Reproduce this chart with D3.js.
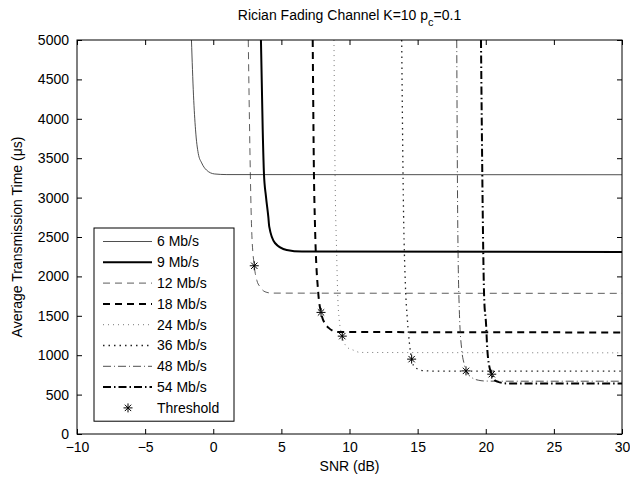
<!DOCTYPE html>
<html>
<head>
<meta charset="utf-8">
<script src="https://cdn.jsdelivr.net/npm/d3@7"></script>
<style>
  html, body { margin: 0; padding: 0; background: #fff; }
  svg { display: block; font-family: "Liberation Sans", Arial, Helvetica, sans-serif; }
</style>
</head>
<body>
<svg id="chart" width="630" height="477"></svg>
<script>
// Average transmission time vs SNR, one curve per 802.11a rate
const rates = ["6 Mb/s", "9 Mb/s", "12 Mb/s", "18 Mb/s", "24 Mb/s", "36 Mb/s", "48 Mb/s", "54 Mb/s"];

const snr6  = [-1.6, -1.45, -1.3, -1.1, -0.85, -0.5, 0.1, 1.0, 30];
const time6 = [5000, 4300, 3860, 3560, 3440, 3350, 3300, 3292, 3290];

const snr9  = [3.5, 3.63, 3.72, 3.87, 4.04, 4.11, 4.53, 5.39, 6.5, 30];
const time9 = [5000, 3860, 3310, 3013, 2758, 2631, 2424, 2335, 2315, 2310];

const snr12  = [2.57, 2.82, 3.01, 3.2, 3.43, 3.8, 4.3, 30];
const time12 = [5000, 2590, 2135, 1950, 1869, 1805, 1788, 1785];

const snr18  = [7.3, 7.39, 7.47, 7.71, 7.91, 8.2, 8.45, 9.1, 30];
const time18 = [5000, 3310, 2630, 1785, 1543, 1400, 1350, 1295, 1289];

const snr24  = [8.86, 8.94, 9.06, 9.13, 9.25, 9.47, 9.79, 10.28, 10.8, 30];
const time24 = [5000, 3310, 2270, 1785, 1445, 1242, 1106, 1064, 1035, 1030];

const snr36  = [13.83, 13.95, 14.1, 14.25, 14.4, 14.56, 14.7, 15.0, 15.5, 16.5, 30];
const time36 = [5000, 3000, 1900, 1450, 1150, 950, 870, 825, 803, 797, 797];

const snr48  = [17.87, 17.94, 18.06, 18.24, 18.4, 18.55, 18.97, 19.45, 20.0, 21.0, 30];
const time48 = [5000, 2760, 1570, 1064, 900, 801, 717, 683, 672, 670, 670];

const snr54  = [19.65, 19.89, 20.02, 20.11, 20.31, 20.44, 20.68, 21.04, 21.5, 30];
const time54 = [5000, 1700, 1403, 1085, 820, 759, 680, 655, 642, 640];

// Threshold SNR for each rate from 12 Mb/s upward
const thresholdSnr  = [3.01, 7.91, 9.47, 14.56, 18.55, 20.44];
const thresholdTime = [2135, 1543, 1242, 950, 801, 759];

const xTicks = [-10, -5, 0, 5, 10, 15, 20, 25, 30];
const yTicks = [0, 500, 1000, 1500, 2000, 2500, 3000, 3500, 4000, 4500, 5000];

const seriesSnr  = [snr6, snr9, snr12, snr18, snr24, snr36, snr48, snr54];
const seriesTime = [time6, time9, time12, time18, time24, time36, time48, time54];

// line style per rate
const styles = [
  { w: 0.8, dash: null,      color: "#222" },
  { w: 2.0, dash: null,      color: "#000" },
  { w: 0.8, dash: "7,5",     color: "#333" },
  { w: 2.0, dash: "7,5",     color: "#000" },
  { w: 0.8, dash: "1,4",     color: "#555" },
  { w: 1.3, dash: "1.5,4",   color: "#222" },
  { w: 0.8, dash: "8,3,1,3", color: "#222" },
  { w: 2.0, dash: "8,3,1.5,3", color: "#000" }
];

const FS = 14;
const margin = { left: 77, right: 8, top: 40, bottom: 43 };
const W = 630, H = 477;

const svg = d3.select("#chart");
const x = d3.scaleLinear().domain([-10, 30]).range([margin.left, W - margin.right]);
const y = d3.scaleLinear().domain([0, 5000]).range([H - margin.bottom, margin.top]);

svg.append("defs").append("clipPath").attr("id", "plotclip")
  .append("rect")
  .attr("x", x(-10)).attr("y", y(5000))
  .attr("width", x(30) - x(-10)).attr("height", y(0) - y(5000));

// axes with inward ticks on all four sides
const tickLen = 5;
const gx = svg.append("g").attr("transform", `translate(0,${y(0)})`)
  .call(d3.axisBottom(x).tickValues(xTicks).tickSizeInner(-tickLen).tickSizeOuter(0).tickPadding(tickLen + 3)
    .tickFormat(d => d < 0 ? "\u2212" + Math.abs(d) : String(d)));
const gxTop = svg.append("g").attr("transform", `translate(0,${y(5000)})`)
  .call(d3.axisTop(x).tickValues(xTicks).tickSizeInner(-tickLen).tickSizeOuter(0).tickFormat(""));
const gy = svg.append("g").attr("transform", `translate(${x(-10)},0)`)
  .call(d3.axisLeft(y).tickValues(yTicks).tickSizeInner(-tickLen).tickSizeOuter(0).tickPadding(tickLen + 3)
    .tickFormat(d3.format("d")));
const gyRight = svg.append("g").attr("transform", `translate(${x(30)},0)`)
  .call(d3.axisRight(y).tickValues(yTicks).tickSizeInner(-tickLen).tickSizeOuter(0).tickFormat(""));

[gx, gxTop, gy, gyRight].forEach(g => {
  g.select(".domain").remove();
  g.selectAll("line").attr("stroke", "#000").attr("stroke-width", 1);
  g.selectAll("text").attr("fill", "#000").attr("font-size", FS)
    .attr("font-family", "Liberation Sans, Arial, sans-serif");
});

// curves
const line = d3.line().curve(d3.curveMonotoneX).x(d => x(d[0])).y(d => y(d[1]));
const plot = svg.append("g").attr("clip-path", "url(#plotclip)");
seriesSnr.forEach((s, i) => {
  const pts = s.map((v, j) => [v, seriesTime[i][j]]);
  plot.append("path").datum(pts)
    .attr("d", line)
    .attr("fill", "none")
    .attr("stroke", styles[i].color)
    .attr("stroke-width", styles[i].w)
    .attr("stroke-dasharray", styles[i].dash);
});

// asterisk marker
function asterisk(g, cx, cy, r) {
  const a = r * Math.SQRT1_2;
  g.append("path")
    .attr("d", `M${cx - r},${cy}H${cx + r}M${cx},${cy - r}V${cy + r}` +
               `M${cx - a},${cy - a}L${cx + a},${cy + a}M${cx - a},${cy + a}L${cx + a},${cy - a}`)
    .attr("stroke", "#000").attr("stroke-width", 1).attr("fill", "none");
}
const marks = svg.append("g");
thresholdSnr.forEach((s, i) => asterisk(marks, x(s), y(thresholdTime[i]), 4.5));

// plot frame
svg.append("rect")
  .attr("x", x(-10)).attr("y", y(5000))
  .attr("width", x(30) - x(-10)).attr("height", y(0) - y(5000))
  .attr("fill", "none").attr("stroke", "#000").attr("stroke-width", 1);

// title with subscript
const title = svg.append("text")
  .attr("x", (x(-10) + x(30)) / 2).attr("y", 20)
  .attr("text-anchor", "middle").attr("font-size", FS).attr("fill", "#000");
title.append("tspan").text("Rician Fading Channel K=10 p");
title.append("tspan").attr("baseline-shift", "sub").attr("font-size", 11).text("c");
title.append("tspan").text("=0.1");

// axis titles
svg.append("text")
  .attr("x", (x(-10) + x(30)) / 2).attr("y", H - 6)
  .attr("text-anchor", "middle").attr("font-size", FS).attr("fill", "#000")
  .text("SNR (dB)");
svg.append("text")
  .attr("transform", `translate(22,${(y(0) + y(5000)) / 2}) rotate(-90)`)
  .attr("text-anchor", "middle").attr("font-size", FS).attr("fill", "#000")
  .text("Average Transmission Time (\u03bcs)");

// legend
const lg = { x: 94, y: 228, w: 140, rowH: 20.8 };
const legend = svg.append("g");
const entries = rates.concat(["Threshold"]);
legend.append("rect")
  .attr("x", lg.x).attr("y", lg.y)
  .attr("width", lg.w).attr("height", entries.length * lg.rowH + 6)
  .attr("fill", "#fff").attr("stroke", "#000").attr("stroke-width", 1);
entries.forEach((name, i) => {
  const cy = lg.y + 13.5 + i * lg.rowH;
  if (i < rates.length) {
    legend.append("line")
      .attr("x1", lg.x + 9).attr("x2", lg.x + 58)
      .attr("y1", cy).attr("y2", cy)
      .attr("stroke", styles[i].color)
      .attr("stroke-width", styles[i].w)
      .attr("stroke-dasharray", styles[i].dash);
  } else {
    asterisk(legend, lg.x + 34, cy, 4.5);
  }
  legend.append("text")
    .attr("x", lg.x + 63).attr("y", cy).attr("dy", "0.35em")
    .attr("font-size", FS).attr("fill", "#000")
    .text(name);
});
</script>
</body>
</html>
